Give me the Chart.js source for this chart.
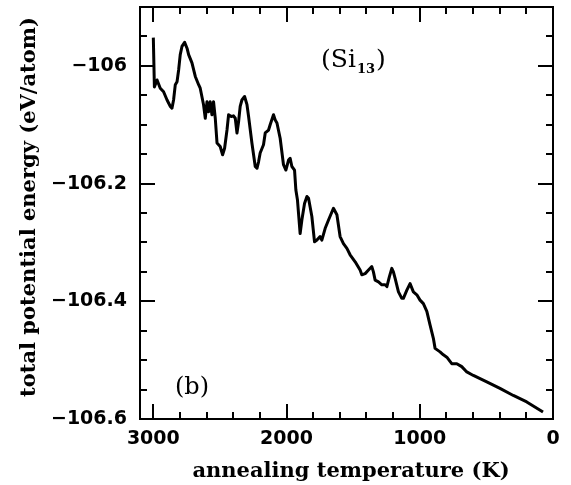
<!DOCTYPE html>
<html>
<head>
<meta charset="utf-8">
<script src="https://cdn.jsdelivr.net/npm/chart.js@4/dist/chart.umd.min.js"></script>
<style>
  body { margin: 0; background: #fff; }
</style>
</head>
<body>
<canvas id="c" width="571" height="485"></canvas>
<script>
// annealing temperature (K)
const temps = [3000, 2992, 2972, 2948, 2923, 2897, 2872, 2860, 2848, 2835, 2822, 2810, 2798, 2785, 2765, 2747,
  2735, 2710, 2685, 2660, 2648, 2623, 2610, 2597, 2585, 2573, 2560, 2548, 2535, 2522, 2498, 2480, 2465, 2447,
  2435, 2415, 2398, 2385, 2372, 2360, 2348, 2335, 2315, 2297, 2285, 2260, 2235, 2222, 2210, 2198, 2173, 2160,
  2135, 2123, 2098, 2085, 2072, 2048, 2023, 2005, 1985, 1973, 1960, 1940, 1930, 1918, 1898, 1885, 1865, 1847,
  1835, 1810, 1790, 1772, 1748, 1735, 1710, 1685, 1648, 1622, 1598, 1573, 1547, 1523, 1485, 1448, 1435, 1410,
  1385, 1360, 1348, 1335, 1310, 1285, 1260, 1247, 1228, 1210, 1198, 1185, 1160, 1135, 1123, 1097, 1073, 1048,
  1022, 998, 973, 947, 923, 898, 885, 848, 823, 797, 760, 722, 685, 647, 598, 497, 398, 298, 197, 75];

// total potential energy (eV/atom)
const energy = [-105.952, -106.036, -106.024, -106.038, -106.044, -106.058, -106.069, -106.072, -106.058,
  -106.032, -106.027, -106.007, -105.981, -105.967, -105.960, -105.970, -105.981, -105.995, -106.018, -106.032,
  -106.038, -106.066, -106.089, -106.061, -106.078, -106.061, -106.083, -106.061, -106.089, -106.131, -106.137,
  -106.151, -106.140, -106.109, -106.083, -106.086, -106.085, -106.089, -106.114, -106.095, -106.069, -106.058,
  -106.052, -106.066, -106.086, -106.131, -106.171, -106.174, -106.163, -106.148, -106.134, -106.114, -106.109,
  -106.100, -106.083, -106.092, -106.097, -106.123, -106.168, -106.177, -106.160, -106.157, -106.171, -106.177,
  -106.211, -106.228, -106.285, -106.262, -106.234, -106.222, -106.225, -106.256, -106.299, -106.296, -106.290,
  -106.296, -106.276, -106.262, -106.242, -106.253, -106.290, -106.302, -106.310, -106.321, -106.333, -106.347,
  -106.355, -106.353, -106.347, -106.341, -106.350, -106.364, -106.367, -106.372, -106.372, -106.375, -106.358,
  -106.344, -106.350, -106.361, -106.384, -106.395, -106.395, -106.381, -106.370, -106.384, -106.389, -106.398,
  -106.404, -106.417, -106.440, -106.463, -106.480, -106.486, -106.491, -106.495, -106.506, -106.506, -106.511,
  -106.520, -106.526, -106.537, -106.548, -106.560, -106.571, -106.588];

const xTicks = [3000, 2000, 1000, 0];
const yTicks = [-106.6, -106.4, -106.2, -106];

const points = temps.map((t, i) => ({ x: t, y: energy[i] }));

// frame, inward ticks on all sides, titles and labels
const decorations = {
  id: 'decorations',
  beforeDraw(chart) {
    const ctx = chart.ctx;
    ctx.save();
    ctx.fillStyle = '#fff';
    ctx.fillRect(0, 0, chart.width, chart.height);
    ctx.restore();
  },
  afterDraw(chart) {
    const ctx = chart.ctx;
    const a = chart.chartArea;
    const xs = chart.scales.x;
    const ys = chart.scales.y;
    ctx.save();
    ctx.strokeStyle = '#000';
    ctx.lineWidth = 2;
    ctx.strokeRect(a.left, a.top, a.right - a.left, a.bottom - a.top);

    ctx.beginPath();
    for (let t = 0; t <= 3000; t += 200) {
      const px = Math.round(xs.getPixelForValue(t));
      const len = t % 1000 === 0 ? 15 : 7;
      ctx.moveTo(px, a.bottom); ctx.lineTo(px, a.bottom - len);
      ctx.moveTo(px, a.top); ctx.lineTo(px, a.top + len);
    }
    for (let i = 0; i < 14; i++) {
      const py = Math.round(ys.getPixelForValue(-106.6 + i * 0.05));
      const len = i % 4 === 0 ? 15 : 7;
      ctx.moveTo(a.left, py); ctx.lineTo(a.left + len, py);
      ctx.moveTo(a.right, py); ctx.lineTo(a.right - len, py);
    }
    ctx.stroke();

    ctx.fillStyle = '#000';
    ctx.textAlign = 'center';
    ctx.textBaseline = 'alphabetic';
    ctx.font = 'bold 21px "DejaVu Serif"';
    ctx.fillText('annealing temperature (K)', 351, 477);

    ctx.save();
    ctx.translate(35, 207);
    ctx.rotate(-Math.PI / 2);
    ctx.fillText('total potential energy (eV/atom)', 0, 0);
    ctx.restore();

    // (Si13) label
    ctx.textAlign = 'left';
    ctx.font = '25px "DejaVu Serif"';
    ctx.fillText('(Si', 321, 67);
    let w = ctx.measureText('(Si').width;
    ctx.font = 'bold 13px "DejaVu Serif"';
    ctx.fillText('13', 321 + w + 1, 73);
    const w2 = ctx.measureText('13').width;
    ctx.font = '25px "DejaVu Serif"';
    ctx.fillText(')', 321 + w + w2 + 2, 67);

    ctx.font = '24px "DejaVu Serif"';
    ctx.fillText('(b)', 175, 394);
    ctx.restore();
  }
};

new Chart(document.getElementById('c'), {
  type: 'line',
  data: {
    datasets: [{
      data: points,
      borderColor: '#000',
      borderWidth: 3,
      borderJoinStyle: 'round',
      pointRadius: 0,
      tension: 0,
      fill: false
    }]
  },
  options: {
    responsive: false,
    animation: false,
    devicePixelRatio: 1,
    layout: { padding: { top: 7, right: 18, left: 0, bottom: 0 } },
    plugins: { legend: { display: false }, tooltip: { enabled: false } },
    scales: {
      x: {
        type: 'linear',
        reverse: true,
        min: 0,
        max: 3100,
        grid: { display: false, drawTicks: false },
        border: { display: false },
        afterBuildTicks: s => { s.ticks = xTicks.map(v => ({ value: v })); },
        afterFit: s => { s.height = 66; s.paddingLeft = 0; s.paddingRight = 0; },
        ticks: {
          padding: 9,
          color: '#000',
          maxRotation: 0,
          font: { family: 'DejaVu Sans', weight: 'bold', size: 19 },
          callback: v => String(v)
        }
      },
      y: {
        min: -106.6,
        max: -105.9,
        grid: { display: false, drawTicks: false },
        border: { display: false },
        afterBuildTicks: s => { s.ticks = yTicks.map(v => ({ value: v })); },
        afterFit: s => { s.width = 140; s.paddingTop = 0; s.paddingBottom = 0; },
        ticks: {
          padding: 13,
          color: '#000',
          font: { family: 'DejaVu Sans', weight: 'bold', size: 19 },
          callback: v => '\u2212' + (Math.abs(v) === 106 ? '106' : Math.abs(v).toFixed(1))
        }
      }
    }
  },
  plugins: [decorations]
});
</script>
</body>
</html>
